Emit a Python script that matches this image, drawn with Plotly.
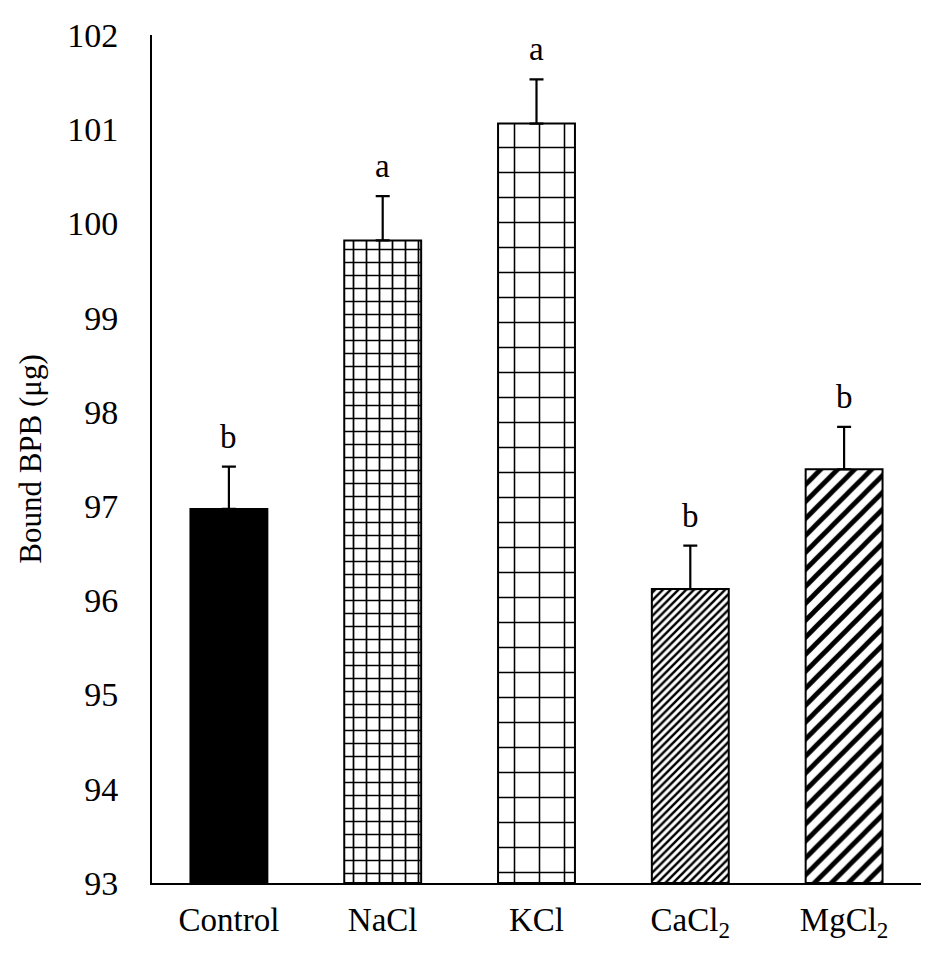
import plotly.graph_objects as go

categories = ["Control", "NaCl", "KCl", "CaCl<sub>2</sub>", "MgCl<sub>2</sub>"]
values = [96.97, 99.82, 101.06, 96.12, 97.39]
errors = [0.45, 0.47, 0.47, 0.46, 0.45]
letters = ["b", "a", "a", "b", "b"]

fill_colors = ["black", "white", "white", "white", "white"]
pattern_shapes = ["", "+", "+", "/", "/"]
pattern_sizes = [8, 13, 25, 5.5, 12]
pattern_solid = [0.3, 0.25, 0.12, 0.45, 0.4]

FONT = "Liberation Serif, Times New Roman, serif"

fig = go.Figure()
for i, c in enumerate(categories):
    fig.add_trace(go.Bar(
        x=[c],
        y=[values[i] - 93],
        base=93,
        width=0.5,
        marker=dict(
            color=fill_colors[i],
            line=dict(color="black", width=2),
            pattern=dict(
                shape=pattern_shapes[i],
                size=pattern_sizes[i],
                solidity=pattern_solid[i],
                fgcolor="black",
                fgopacity=1,
            ),
        ),
        error_y=dict(
            type="data",
            symmetric=False,
            array=[errors[i]],
            arrayminus=[0],
            color="black",
            thickness=2.2,
            width=7,
        ),
        showlegend=False,
        hoverinfo="skip",
    ))

for c, v, e, l in zip(categories, values, errors, letters):
    fig.add_annotation(
        x=c, y=v + e, text=l, showarrow=False,
        yanchor="middle", yshift=30,
        font=dict(family=FONT, size=33, color="black"),
    )

fig.update_layout(
    width=931, height=953,
    margin=dict(l=144, r=18, t=27, b=78),
    paper_bgcolor="white",
    plot_bgcolor="white",
    font=dict(family=FONT, size=33, color="black"),
    barmode="overlay",
)
fig.update_xaxes(
    showline=True, linecolor="black", linewidth=2,
    showgrid=False, ticks="", tickfont=dict(size=33),
    ticklabelstandoff=6, automargin=False,
)
fig.update_yaxes(
    range=[93, 102], dtick=1, showline=True, linecolor="black", linewidth=2,
    showgrid=False, zeroline=False, ticks="", tickfont=dict(size=34),
    ticklabelstandoff=25, automargin=False,
    title=dict(text="Bound BPB (μg)", font=dict(size=31), standoff=16),
)

fig.write_html("out.html")
